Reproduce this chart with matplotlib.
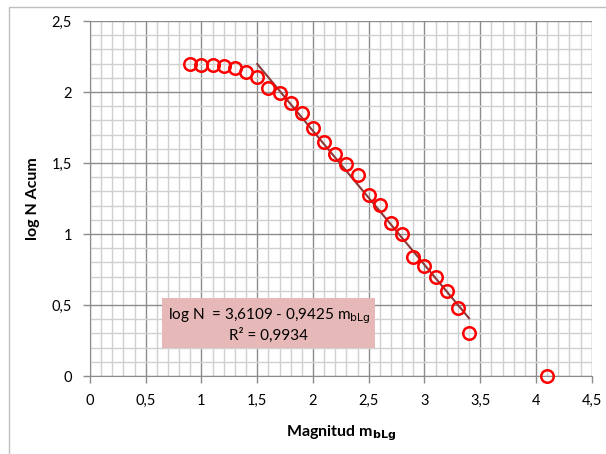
import numpy as np
import matplotlib
matplotlib.use("Agg")
import matplotlib.pyplot as plt
from matplotlib.patches import Rectangle
from matplotlib.ticker import MultipleLocator, FuncFormatter

plt.rcParams["font.family"] = ["Lato", "DejaVu Sans"]

# data
magnitude = [0.9, 1.0, 1.1, 1.2, 1.3, 1.4, 1.5, 1.6, 1.7, 1.8, 1.9, 2.0,
             2.1, 2.2, 2.3, 2.4, 2.5, 2.6, 2.7, 2.8, 2.9, 3.0, 3.1, 3.2,
             3.3, 3.4, 4.1]
log_n = [2.195, 2.188, 2.188, 2.183, 2.169, 2.141, 2.104, 2.030, 1.995,
         1.925, 1.850, 1.744, 1.650, 1.562, 1.491, 1.415, 1.275, 1.204,
         1.075, 0.998, 0.840, 0.777, 0.699, 0.601, 0.477, 0.301, 0.0]
fit_a, fit_b = 3.6109, -0.9425
fit_range = [1.5, 3.4]
r2 = 0.9934

fig = plt.figure(figsize=(6.06, 4.54), dpi=100)
fig.patches.append(Rectangle((9 / 606, -0.1), 1.2, 1 - 7 / 454 + 0.1,
                             transform=fig.transFigure, fill=False,
                             edgecolor="#bfbfbf", linewidth=1.0))
ax = fig.add_axes([90 / 606, 78 / 454, 501.7 / 606, 355 / 454])

ax.set_xlim(0, 4.5)
ax.set_ylim(0, 2.5)
ax.xaxis.set_major_locator(MultipleLocator(0.5))
ax.yaxis.set_major_locator(MultipleLocator(0.5))
ax.xaxis.set_minor_locator(MultipleLocator(0.1))
ax.yaxis.set_minor_locator(MultipleLocator(0.1))
fmt = FuncFormatter(lambda v, p: f"{v:g}".replace(".", ","))
ax.xaxis.set_major_formatter(fmt)
ax.yaxis.set_major_formatter(fmt)
ax.grid(True, which="minor", color="#d0d0d0", linewidth=1.0, zorder=0)
ax.grid(True, which="major", color="#8c8c8c", linewidth=1.0, zorder=0)
ax.set_axisbelow(True)
ax.tick_params(which="major", length=5, width=1, color="#8c8c8c",
               labelsize=10.5, pad=8)
ax.tick_params(which="minor", length=0)
for s in ["top", "right"]:
    ax.spines[s].set_visible(False)
for s in ["left", "bottom"]:
    ax.spines[s].set_color("#8c8c8c")

xf = np.array(fit_range)
ax.plot(xf, fit_a + fit_b * xf, color="#8b3a3a", linewidth=1.5, zorder=3)
ax.plot(magnitude, log_n, linestyle="none", marker="o", markersize=9,
        markerfacecolor="none", markeredgecolor="#ff0000",
        markeredgewidth=1.8, zorder=4, clip_on=False)

eq = (f"log N  = {fit_a:.4f} - {abs(fit_b):.4f} m$_{{\\mathrm{{bLg}}}}$"
      f"\nR² = {r2:.4f}").replace(".", ",")
ax.text(1.605, 0.36, eq, ha="center", va="center", fontsize=11,
        linespacing=1.15, zorder=5,
        bbox=dict(boxstyle="square,pad=0.35", facecolor="#e6b8b7",
                  edgecolor="none"))

ax.set_xlabel("Magnitud m$_{\\mathbf{bLg}}$", fontsize=11.5, fontweight="bold",
              labelpad=11)
ax.set_ylabel("log N Acum", fontsize=11.5, fontweight="bold", labelpad=8)

fig.savefig("out.png", dpi=100)
